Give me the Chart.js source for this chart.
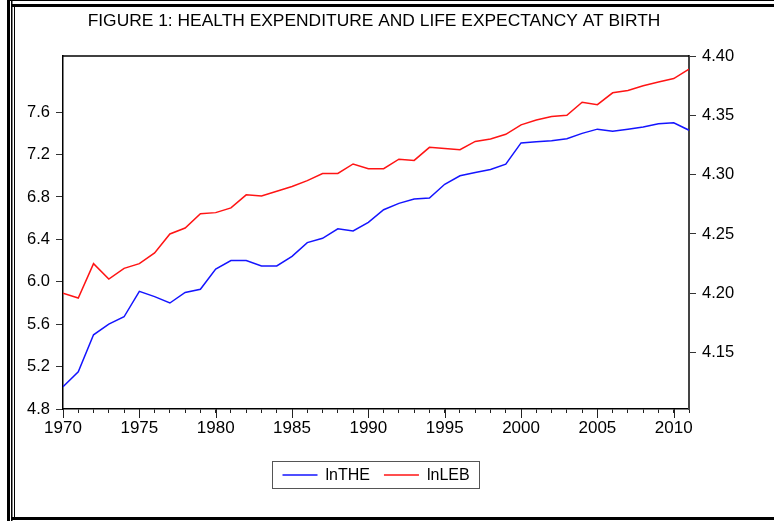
<!DOCTYPE html>
<html>
<head>
<meta charset="utf-8">
<script src="https://cdn.jsdelivr.net/npm/chart.js@4.4.1/dist/chart.umd.min.js"></script>
<style>
html, body { margin: 0; padding: 0; background: #fff; }
#wrap { width: 774px; height: 521px; }
</style>
</head>
<body>
<div id="wrap"><canvas id="chart" width="774" height="521"></canvas></div>
<script>
// Figure 1 data
const chartTitle = "FIGURE 1: HEALTH EXPENDITURE AND LIFE EXPECTANCY AT BIRTH";
const years = [1970, 1971, 1972, 1973, 1974, 1975, 1976, 1977, 1978, 1979,
	1980, 1981, 1982, 1983, 1984, 1985, 1986, 1987, 1988, 1989,
	1990, 1991, 1992, 1993, 1994, 1995, 1996, 1997, 1998, 1999,
	2000, 2001, 2002, 2003, 2004, 2005, 2006, 2007, 2008, 2009,
	2010, 2011];
const lnTHE = [5.01, 5.15, 5.50, 5.60, 5.67, 5.91, 5.86, 5.80, 5.90, 5.93,
	6.12, 6.20, 6.20, 6.15, 6.15, 6.24, 6.37, 6.41, 6.50, 6.48,
	6.56, 6.68, 6.74, 6.78, 6.79, 6.92, 7.00, 7.03, 7.06, 7.11,
	7.31, 7.32, 7.33, 7.35, 7.40, 7.44, 7.42, 7.44, 7.46, 7.49,
	7.50, 7.43];
const lnLEB = [4.200, 4.196, 4.225, 4.212, 4.221, 4.225, 4.234, 4.250, 4.255, 4.267,
	4.268, 4.272, 4.283, 4.282, 4.286, 4.290, 4.295, 4.301, 4.301, 4.309,
	4.305, 4.305, 4.313, 4.312, 4.323, 4.322, 4.321, 4.328, 4.330, 4.334,
	4.342, 4.346, 4.349, 4.350, 4.361, 4.359, 4.369, 4.371, 4.375, 4.378,
	4.381, 4.389];
const leftTicks = [4.8, 5.2, 5.6, 6.0, 6.4, 6.8, 7.2, 7.6];
const rightTicks = [4.15, 4.20, 4.25, 4.30, 4.35, 4.40];
const xLabelStep = 5;

const FONT = '"Liberation Sans", Arial, sans-serif';
Chart.defaults.font.family = FONT;
Chart.defaults.color = "#000";

// frame, title, top border, long major x ticks and the boxed legend
const eviewsDecor = {
	id: "eviewsDecor",
	afterDraw(chart) {
		const ctx = chart.ctx;
		const area = chart.chartArea;
		const xs = chart.scales.x;
		const cx = (area.left + area.right) / 2;
		ctx.save();

		// outer double frame
		ctx.fillStyle = "#000";
		ctx.fillRect(7, 0, 3, 521);
		ctx.fillRect(11, 0, 1.5, 521);
		ctx.fillRect(14, 5, 1, 513);
		ctx.fillRect(7, 0, 767, 1);
		ctx.fillRect(11, 4, 763, 3);
		ctx.fillRect(11, 517, 763, 3);

		// title
		ctx.font = "17.4px " + FONT;
		ctx.textAlign = "center";
		ctx.textBaseline = "middle";
		ctx.fillText(chartTitle, cx - 2, 21);

		// top edge of plot
		ctx.strokeStyle = "#000";
		ctx.lineWidth = 1.5;
		ctx.beginPath();
		ctx.moveTo(area.left, area.top);
		ctx.lineTo(area.right, area.top);
		ctx.stroke();

		// longer ticks at labelled years
		ctx.strokeStyle = "#222";
		ctx.lineWidth = 1;
		years.forEach((yr) => {
			if (yr % xLabelStep !== 0) return;
			const px = Math.round(xs.getPixelForValue(yr)) + 0.5;
			ctx.beginPath();
			ctx.moveTo(px, area.bottom);
			ctx.lineTo(px, area.bottom + 9);
			ctx.stroke();
		});

		// legend
		ctx.font = "16px " + FONT;
		ctx.textAlign = "left";
		const items = chart.data.datasets.map((ds) => ({
			label: ds.label,
			color: ds.borderColor,
			w: ctx.measureText(ds.label).width,
		}));
		const lineW = 35, gapText = 8, gapItem = 14, pad = 10;
		let total = pad * 2;
		items.forEach((it, i) => {
			total += lineW + gapText + it.w + (i ? gapItem : 0);
		});
		const boxL = Math.round(cx - total / 2) + 0.5;
		const boxT = 461.5, boxH = 27;
		ctx.strokeStyle = "#555";
		ctx.lineWidth = 1;
		ctx.strokeRect(boxL, boxT, Math.round(total), boxH);
		let x = boxL + pad;
		const midY = boxT + boxH / 2;
		items.forEach((it) => {
			ctx.strokeStyle = it.color;
			ctx.lineWidth = 1.5;
			ctx.beginPath();
			ctx.moveTo(x, midY);
			ctx.lineTo(x + lineW, midY);
			ctx.stroke();
			x += lineW + gapText;
			ctx.fillStyle = "#000";
			ctx.fillText(it.label, x, midY + 1);
			x += it.w + gapItem;
		});
		ctx.restore();
	},
};

const ctx = document.getElementById("chart").getContext("2d");
new Chart(ctx, {
	type: "line",
	data: {
		labels: years,
		datasets: [
			{
				label: "lnTHE",
				data: years.map((yr, i) => ({ x: yr, y: lnTHE[i] })),
				borderColor: "#1414ff",
				borderWidth: 1.5,
				yAxisID: "y",
			},
			{
				label: "lnLEB",
				data: years.map((yr, i) => ({ x: yr, y: lnLEB[i] })),
				borderColor: "#ff1414",
				borderWidth: 1.5,
				yAxisID: "y1",
			},
		],
	},
	options: {
		responsive: false,
		animation: false,
		elements: { point: { radius: 0 }, line: { tension: 0 } },
		layout: { padding: { top: 56, left: 0, right: 0, bottom: 0 } },
		plugins: {
			legend: { display: false },
			title: { display: false },
			tooltip: { enabled: false },
		},
		scales: {
			x: {
				type: "linear",
				min: 1970,
				max: 2011,
				afterBuildTicks: (scale) => {
					scale.ticks = years.map((v) => ({ value: v }));
				},
				afterFit: (scale) => {
					scale.height = 112;
				},
				ticks: {
					autoSkip: false,
					maxRotation: 0,
					padding: 5,
					font: { size: 17 },
					color: "#000",
					callback: (v) => (v % xLabelStep === 0 ? String(v) : ""),
				},
				grid: { drawOnChartArea: false, tickLength: 4, color: "#222" },
				border: { display: true, color: "#000", width: 1.5 },
			},
			y: {
				position: "left",
				min: 4.8,
				max: 8.13,
				afterBuildTicks: (scale) => {
					scale.ticks = leftTicks.map((v) => ({ value: v }));
				},
				afterFit: (scale) => {
					scale.width = 63;
				},
				ticks: {
					padding: 6,
					font: { size: 16.5 },
					color: "#000",
					callback: (v) => v.toFixed(1),
				},
				grid: { drawOnChartArea: false, tickLength: 7, color: "#333" },
				border: { display: true, color: "#000", width: 1.5 },
			},
			y1: {
				position: "right",
				min: 4.1025,
				max: 4.4,
				afterBuildTicks: (scale) => {
					scale.ticks = rightTicks.map((v) => ({ value: v }));
				},
				afterFit: (scale) => {
					scale.width = 85;
				},
				ticks: {
					padding: 6,
					font: { size: 16.5 },
					color: "#000",
					callback: (v) => v.toFixed(2),
				},
				grid: { drawOnChartArea: false, tickLength: 7, color: "#333" },
				border: { display: true, color: "#444", width: 2 },
			},
		},
	},
	plugins: [eviewsDecor],
});
</script>
</body>
</html>
